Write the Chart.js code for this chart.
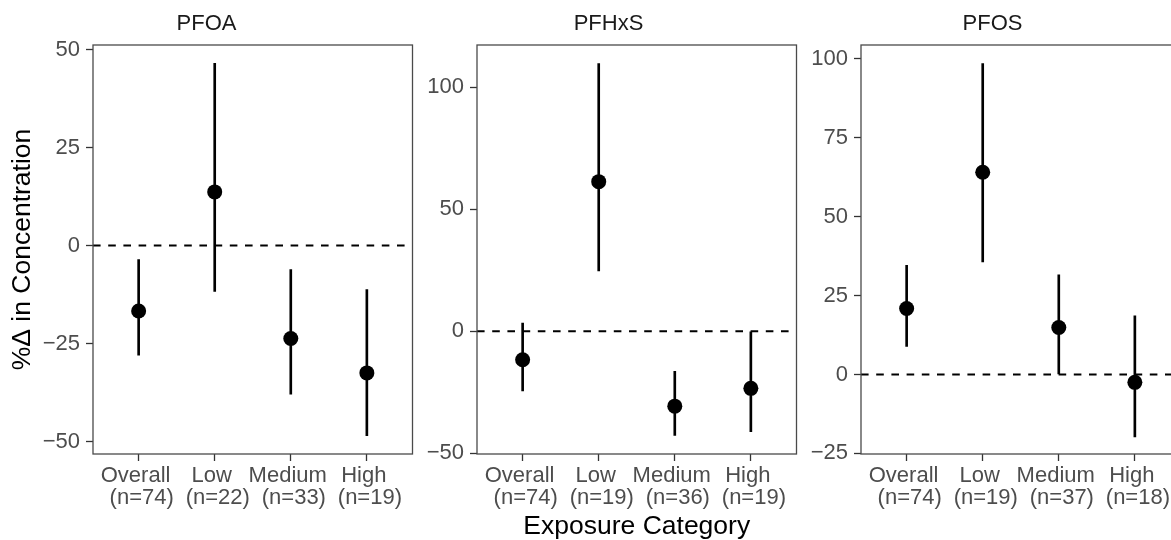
<!DOCTYPE html>
<html>
<head>
<meta charset="utf-8">
<script src="https://cdn.jsdelivr.net/npm/chart.js@4.4.1/dist/chart.umd.min.js"></script>
<style>
  html, body { margin: 0; padding: 0; background: #fff; overflow: hidden; }
  body { width: 1171px; height: 540px; position: relative; }
  canvas { position: absolute; top: 0; }
</style>
</head>
<body>
<canvas id="pfoa" width="420" height="540" style="left:0px"></canvas>
<canvas id="pfhxs" width="384" height="540" style="left:420px"></canvas>
<canvas id="pfos" width="384" height="540" style="left:804px"></canvas>
<script>
// exposure categories, shared by all panels
var categories = ['Overall', 'Low', 'Medium', 'High'];
var xRange = [-0.6, 3.6];

// PFOA
var pfoaN = [74, 22, 33, 19];
var pfoaEst = [-16.7, 13.7, -23.7, -32.5];
var pfoaLower = [-28.0, -11.7, -37.9, -48.5];
var pfoaUpper = [-3.6, 46.5, -6.1, -11.2];
var pfoaTicks = [-50, -25, 0, 25, 50];
var pfoaRange = [-53.2, 51.2];

// PFHxS
var pfhxsN = [74, 19, 36, 19];
var pfhxsEst = [-11.7, 61.3, -30.7, -23.4];
var pfhxsLower = [-24.4, 24.7, -42.7, -41.1];
var pfhxsUpper = [3.3, 109.7, -16.4, 0];
var pfhxsTicks = [-50, 0, 50, 100];
var pfhxsRange = [-50.3, 117.3];

// PFOS
var pfosN = [74, 19, 37, 18];
var pfosEst = [20.9, 64.1, 14.9, -2.5];
var pfosLower = [8.9, 35.7, 0, -19.8];
var pfosUpper = [34.6, 98.5, 31.6, 18.6];
var pfosTicks = [-25, 0, 25, 50, 75, 100];
var pfosRange = [-25.2, 104.4];

Chart.defaults.font.family = "'Liberation Sans', Arial, sans-serif";

var framePlugin = {
  id: 'frame',
  afterDraw: function(chart) {
    var a = chart.chartArea, ctx = chart.ctx;
    ctx.save();
    ctx.strokeStyle = '#4a4a4a';
    ctx.lineWidth = 1.3;
    ctx.strokeRect(a.left, a.top, a.right - a.left, a.bottom - a.top);
    ctx.restore();
  }
};

function makePanel(id, name, n, est, lower, upper, ticks, range, yWidth, yTitle, xTitle) {
  var tickGrid = {
    drawOnChartArea: false,
    drawTicks: true,
    tickLength: 7,
    tickColor: '#333',
    tickWidth: 1.3,
    offset: false
  };
  return new Chart(document.getElementById(id), {
    type: 'bar',
    data: {
      datasets: [
        {
          type: 'scatter',
          data: est.map(function(v, i) { return {x: i, y: v}; }),
          pointRadius: 7.5,
          pointBackgroundColor: '#000',
          pointBorderWidth: 0,
          order: 0
        },
        {
          type: 'bar',
          data: lower.map(function(v, i) { return {x: i, y: [v, upper[i]]}; }),
          backgroundColor: '#000',
          borderWidth: 0,
          barThickness: 2,
          order: 1
        },
        {
          type: 'line',
          data: [{x: xRange[0], y: 0}, {x: xRange[1], y: 0}],
          borderColor: '#000',
          borderWidth: 2,
          borderDash: [7.6, 7.6],
          pointRadius: 0,
          order: 2
        }
      ]
    },
    options: {
      responsive: false,
      animation: false,
      layout: {padding: {left: 0, right: 7, top: 0, bottom: 0}},
      plugins: {
        legend: {display: false},
        tooltip: {enabled: false},
        title: {
          display: true,
          text: name,
          color: '#1a1a1a',
          font: {size: 22, weight: 'normal', lineHeight: 1},
          padding: {top: 13.1, bottom: 9.9}
        }
      },
      scales: {
        x: {
          type: 'linear',
          min: xRange[0],
          max: xRange[1],
          offset: false,
          afterBuildTicks: function(s) {
            s.ticks = categories.map(function(c, i) { return {value: i}; });
          },
          afterFit: function(s) { s.height = 86; },
          ticks: {
            color: '#4d4d4d',
            font: {size: 22, lineHeight: 1},
            padding: 4,
            maxRotation: 0,
            autoSkip: false,
            callback: function(v) { return [categories[v] + ' ', ' (n=' + n[v] + ')']; }
          },
          grid: tickGrid,
          border: {display: false},
          title: {
            display: !!xTitle,
            text: xTitle || '',
            color: '#000',
            font: {size: 26.5, lineHeight: 1},
            padding: {top: 0, bottom: 0}
          }
        },
        y: {
          min: range[0],
          max: range[1],
          afterBuildTicks: function(s) {
            s.ticks = ticks.map(function(v) { return {value: v}; });
          },
          afterFit: function(s) { s.width = yWidth; },
          ticks: {
            color: '#4d4d4d',
            font: {size: 22, lineHeight: 1},
            padding: 6,
            callback: function(v) { return v < 0 ? '\u2212' + Math.abs(v) : '' + v; }
          },
          grid: tickGrid,
          border: {display: false},
          title: {
            display: !!yTitle,
            text: yTitle || '',
            color: '#000',
            font: {size: 26.5, lineHeight: 1},
            padding: {top: 9.9, bottom: 0}
          }
        }
      }
    },
    plugins: [framePlugin]
  });
}

makePanel('pfoa', 'PFOA', pfoaN, pfoaEst, pfoaLower, pfoaUpper, pfoaTicks, pfoaRange, 93, '%\u0394 in Concentration', null);
makePanel('pfhxs', 'PFHxS', pfhxsN, pfhxsEst, pfhxsLower, pfhxsUpper, pfhxsTicks, pfhxsRange, 57, null, 'Exposure Category');
makePanel('pfos', 'PFOS', pfosN, pfosEst, pfosLower, pfosUpper, pfosTicks, pfosRange, 57, null, null);
</script>
</body>
</html>
